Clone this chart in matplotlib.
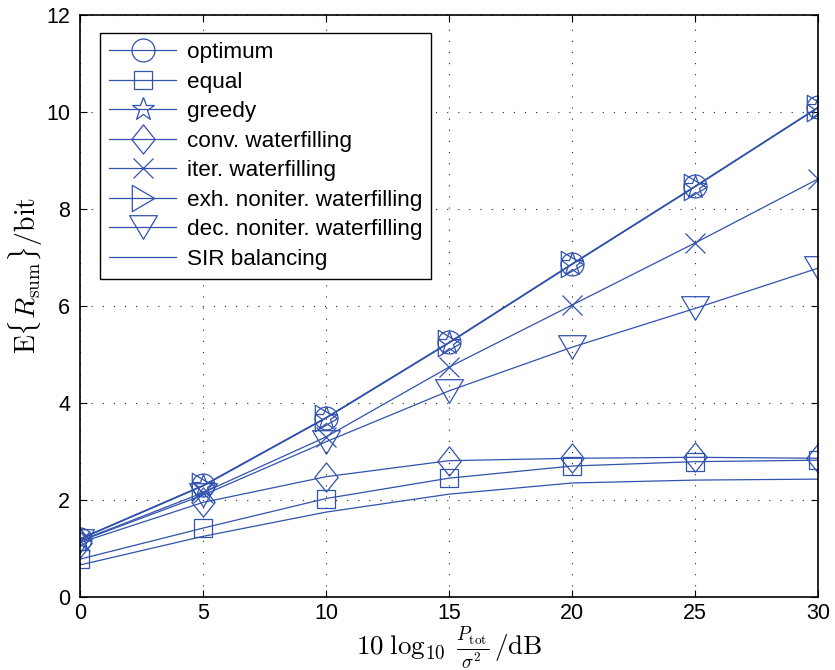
import matplotlib.pyplot as plt
import numpy as np
from matplotlib.path import Path

# SNR axis (dB) and expected sum rate per scheme (bit)
snr_db = [0, 5, 10, 15, 20, 25, 30]
optimum = [1.20, 2.30, 3.70, 5.25, 6.87, 8.47, 10.10]
equal = [0.78, 1.42, 2.03, 2.45, 2.70, 2.79, 2.82]
greedy = [1.19, 2.29, 3.69, 5.24, 6.86, 8.46, 10.09]
conv_wf = [1.12, 1.95, 2.48, 2.81, 2.86, 2.88, 2.86]
iter_wf = [1.16, 2.15, 3.30, 4.74, 6.02, 7.30, 8.62]
exh_wf = [1.20, 2.29, 3.69, 5.24, 6.86, 8.46, 10.09]
dec_wf = [1.15, 2.10, 3.20, 4.25, 5.15, 5.95, 6.78]
sir_bal = [0.66, 1.25, 1.75, 2.12, 2.35, 2.41, 2.43]

labels = ['optimum', 'equal', 'greedy', 'conv. waterfilling', 'iter. waterfilling',
          'exh. noniter. waterfilling', 'dec. noniter. waterfilling', 'SIR balancing']

plt.rcParams['font.family'] = ['Liberation Sans', 'DejaVu Sans']
plt.rcParams['mathtext.fontset'] = 'cm'

blue = '#3152ad'

# MATLAB-like marker shapes (taller diamond, wide triangles)
diamond = Path([(0, 1), (0.8, 0), (0, -1), (-0.8, 0), (0, 1)],
               [Path.MOVETO, Path.LINETO, Path.LINETO, Path.LINETO, Path.CLOSEPOLY])
tri_down = Path([(-1, 0.85), (1, 0.85), (0, -0.85), (-1, 0.85)],
                [Path.MOVETO, Path.LINETO, Path.LINETO, Path.CLOSEPOLY])
tri_right = Path([(-0.85, 1), (0.85, 0), (-0.85, -1), (-0.85, 1)],
                 [Path.MOVETO, Path.LINETO, Path.LINETO, Path.CLOSEPOLY])

series = [
    (optimum, 'o', 16.5),
    (equal, 's', 13),
    (greedy, '*', 17),
    (conv_wf, diamond, 21),
    (iter_wf, 'x', 14),
    (exh_wf, tri_right, 19),
    (dec_wf, tri_down, 20),
    (sir_bal, 'None', 10),
]

fig = plt.figure(figsize=(8.35, 6.7), dpi=100)
ax = fig.add_axes([0.0958, 0.109, 0.884, 0.8686])

for (vals, mk, ms), lab in zip(series, labels):
    ax.plot(snr_db, vals, color=blue, linewidth=0.9, marker=mk, markersize=ms,
            markerfacecolor='none', markeredgecolor=blue, markeredgewidth=0.9,
            label=lab)

ax.set_xlim(0, 30)
ax.set_ylim(0, 12)
ax.set_xticks(np.arange(0, 31, 5))
ax.set_yticks(np.arange(0, 13, 2))
ax.tick_params(direction='in', length=5, width=0.8, labelsize=15.5,
               top=True, right=True, pad=7)
ax.tick_params(axis='x', pad=4.5)
for sp in ax.spines.values():
    sp.set_linewidth(1.2)

ax.grid(True, color='#222222', linestyle=(0, (1, 9)), linewidth=0.8)

ax.set_xlabel(r'$10\;\log_{10}\;\frac{P_{\mathrm{tot}}}{\sigma^2}\,/\mathrm{dB}$',
              fontsize=19.5, va='bottom')
ax.xaxis.set_label_coords(0.5, -0.1265)
ax.set_ylabel(r'$\mathrm{E}\{R_{\mathrm{sum}}\}/\mathrm{bit}$', fontsize=20)
ax.yaxis.set_label_coords(-0.047, 0.552)

leg = ax.legend(loc='upper left', bbox_to_anchor=(0.027, 0.969), fontsize=16.2,
                numpoints=1, handlelength=3.0, handletextpad=0.45,
                labelspacing=0.38, borderpad=0.4, borderaxespad=0,
                fancybox=False, framealpha=1, edgecolor='black')
leg.get_frame().set_linewidth(1.0)

fig.savefig('out.png', dpi=100)
